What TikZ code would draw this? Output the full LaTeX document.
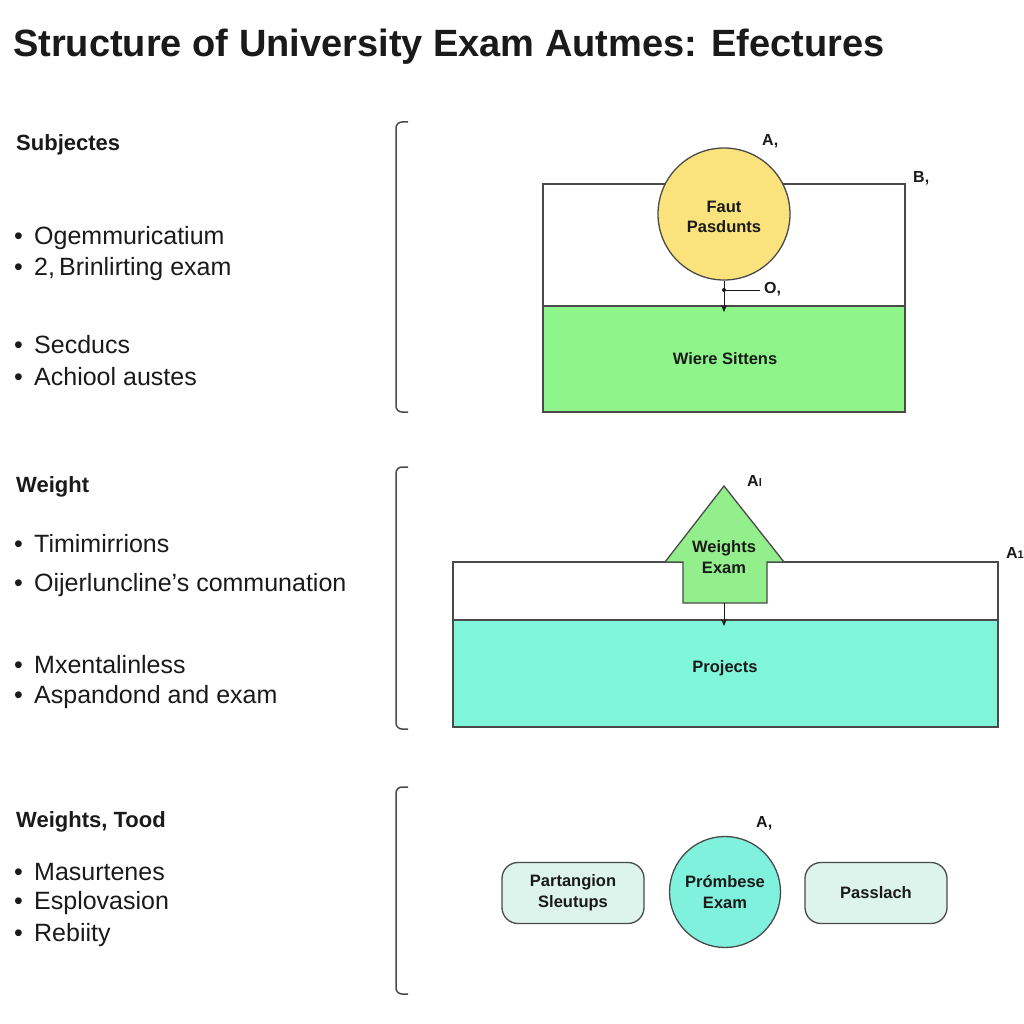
\documentclass[tikz,border=0pt]{standalone}
\usepackage{fontspec}
\setmainfont{Liberation Sans}
\usetikzlibrary{arrows.meta}
\definecolor{ink}{HTML}{1A1A1A}
\definecolor{edge}{HTML}{4A4A4A}
\definecolor{ylw}{HTML}{FAE27C}
\definecolor{grn}{HTML}{8EF58A}
\definecolor{agrn}{HTML}{93EE8C}
\definecolor{cyn}{HTML}{7FF6DA}
\definecolor{cyc}{HTML}{80F1DC}
\definecolor{mint}{HTML}{DCF4EC}
\tikzset{
  heading/.style={anchor=west, font=\fontsize{22}{26}\selectfont\bfseries, text=ink, inner sep=0},
  item/.style={anchor=west, font=\fontsize{25}{29}\selectfont, text=ink, inner sep=0},
  lbl/.style={font=\fontsize{16.5}{19}\selectfont\bfseries, text=ink, align=center, inner sep=0},
  tag/.style={font=\fontsize{16}{19}\selectfont\bfseries, text=ink, inner sep=0},
  brk/.style={draw=edge, line width=1.5pt, rounded corners=6pt},
  box/.style={draw=edge, line width=1.3pt},
  conn/.style={draw=ink, line width=1pt, -{Stealth[length=7pt,width=6pt]}},
  pill/.style={draw=edge, line width=1.3pt, fill=mint, rounded corners=16pt, minimum width=142pt, minimum height=61pt, align=center, font=\fontsize{16.5}{19}\selectfont\bfseries, text=ink, inner sep=0}
}
\newcommand{\bul}{\makebox[20pt][l]{•}}
\begin{document}
\begin{tikzpicture}[x=1pt,y=-1pt]
\useasboundingbox[fill=white] (0,0) rectangle (1024,1024);
% title
\node[anchor=west, inner sep=0, text=ink, font=\fontsize{38}{42}\selectfont\bfseries] (title) at (13,47) {Structure of University Exam Autmes: Efectures};

% ---------- section 1
\node[heading] (h1) at (16,145) {Subjectes};
\node[item] (b11) at (14,238) {\bul Ogemmuricatium};
\node[item] (b12) at (14,269) {\bul 2,\,Brinlirting exam};
\node[item] (b13) at (14,345) {\bul Secducs};
\node[item] (b14) at (14,377) {\bul Achiool austes};
\draw[brk] (408,122) -- (396,122) -- (396,412) -- (408,412);

\draw[box] (543,184) rectangle (905,306);
\draw[box, fill=grn] (543,306) rectangle (905,412);
\node[lbl] (ws) at (725,359) {Wiere Sittens};
\node[circle, draw=edge, line width=1.3pt, fill=ylw, minimum size=132pt, inner sep=0] (c1) at (724,214) {};
\node[lbl] (c1t) at (724,217) {Faut\\[1pt]Pasdunts};
\coordinate (g1) at (724,312);
\coordinate (o1) at (724,290);
\coordinate (o1e) at (760,290);
\draw[conn] (c1.south) -- (g1);
\fill[ink] (o1) circle (2pt);
\draw[ink, line width=1pt] (o1) -- (o1e);
\node[tag, anchor=west] (to1) at (764,289) {O,};
\node[tag, anchor=west] (ta1) at (762,141) {A,};
\node[tag, anchor=west] (tb1) at (913,178) {B,};

% ---------- section 2
\node[heading] (h2) at (16,487) {Weight};
\node[item] (b21) at (14,544) {\bul Timimirrions};
\node[item] (b22) at (14,585) {\bul Oijerluncline’s communation};
\node[item] (b23) at (14,665) {\bul Mxentalinless};
\node[item] (b24) at (14,697) {\bul Aspandond and exam};
\draw[brk] (408,467) -- (396,467) -- (396,729) -- (408,729);

\draw[box] (453,562) rectangle (998,620);
\draw[box, fill=cyn] (453,620) rectangle (998,727);
\node[lbl] (pj) at (725,668) {Projects};
\draw[box, fill=agrn, line join=miter] (724,486) -- (784,562) -- (767,562) -- (767,603) -- (683,603) -- (683,562) -- (665,562) -- cycle;
\node[lbl] (we) at (724,557) {Weights\\[2pt]Exam};
\coordinate (a2b) at (724,603);
\coordinate (g2) at (724,626);
\draw[conn] (a2b) -- (g2);
\node[tag, anchor=west] (ta2) at (747,481) {A{\fontsize{11}{12}\selectfont l}};
\node[tag, anchor=east] (ta2r) at (1024,553) {A{\fontsize{11}{12}\selectfont 1}};

% ---------- section 3
\node[heading] (h3) at (16,822) {Weights, Tood};
\node[item] (b31) at (14,872) {\bul Masurtenes};
\node[item] (b32) at (14,903) {\bul Esplovasion};
\node[item] (b33) at (14,935) {\bul Rebiity};
\draw[brk] (408,787) -- (396,787) -- (396,994) -- (408,994);

\node[pill] (p1) at (573,893) {Partangion\\[2pt]Sleutups};
\node[circle, draw=edge, line width=1.3pt, fill=cyc, minimum size=111pt, inner sep=0, align=center, font=\fontsize{16.5}{19}\selectfont\bfseries, text=ink] (c3) at (725,892) {Prómbese\\[2pt]Exam};
\node[pill] (p2) at (876,893) {Passlach};
\node[tag, anchor=west] (ta3) at (756,823) {A,};
\end{tikzpicture}
\end{document}
